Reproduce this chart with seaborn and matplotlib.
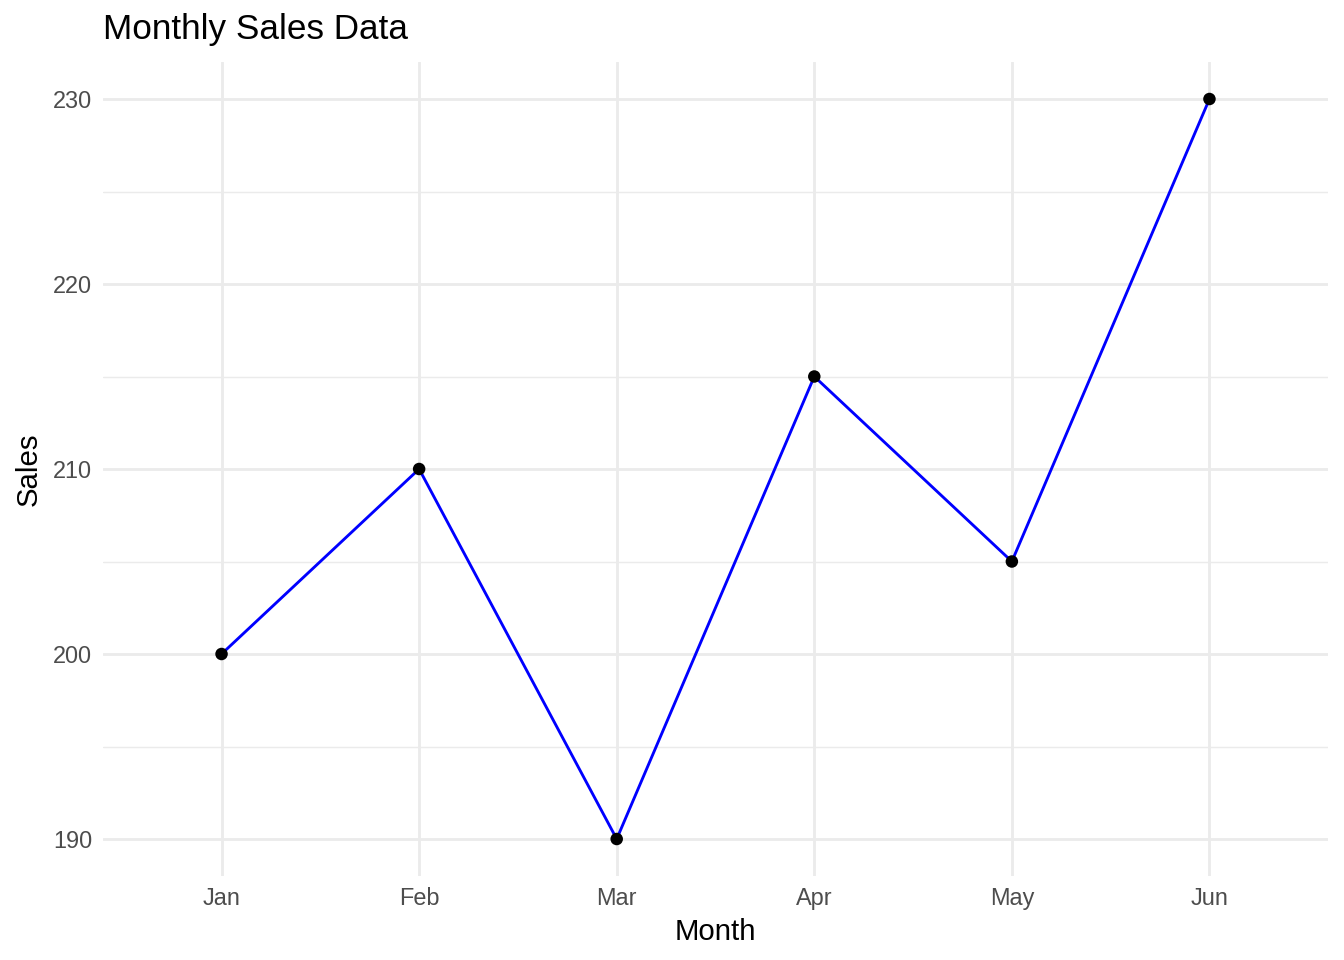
import numpy as np
import matplotlib
matplotlib.use("Agg")
import matplotlib.pyplot as plt
from matplotlib.ticker import MultipleLocator
import seaborn as sns
import pandas as pd

months = ['Jan', 'Feb', 'Mar', 'Apr', 'May', 'Jun']
sales = [200, 210, 190, 215, 205, 230]

df = pd.DataFrame({'Month': months, 'Sales': sales})
df['pos'] = np.arange(len(months))

sns.set_theme(style="white")
plt.rcParams['font.family'] = ['Liberation Sans', 'DejaVu Sans']

fig = plt.figure(figsize=(7, 5), dpi=192)
ax = fig.add_axes([103 / 1344, 1 - 876 / 960, (1328 - 103) / 1344, (876 - 62) / 960])

sns.lineplot(data=df, x='pos', y='Sales', color='#0000FF', linewidth=1.07, ax=ax, zorder=3)
sns.scatterplot(data=df, x='pos', y='Sales', color='black', s=22, edgecolor='none', ax=ax, zorder=4)

ax.set_xlim(-0.6, len(months) - 1 + 0.6)
ax.set_ylim(188, 232)
ax.set_xticks(df['pos'])
ax.set_xticklabels(months)
ax.yaxis.set_major_locator(MultipleLocator(10))
ax.yaxis.set_minor_locator(MultipleLocator(5))

# theme_minimal-like grid
ax.grid(which='major', axis='both', color='#EBEBEB', linewidth=1.07)
ax.grid(which='minor', axis='y', color='#EBEBEB', linewidth=0.53)
ax.set_axisbelow(True)
for s in ax.spines.values():
    s.set_visible(False)
ax.tick_params(axis='both', which='both', length=0, labelsize=8.8, labelcolor='#4D4D4D', pad=4)

ax.set_xlabel('Month', fontsize=11, color='black', labelpad=3)
ax.set_ylabel('Sales', fontsize=11, color='black', labelpad=4)
fig.text(103 / 1344, 1 - 30 / 960, 'Monthly Sales Data', fontsize=13.2, color='black', ha='left', va='center')

fig.savefig('out.png', dpi=192, facecolor='white')
